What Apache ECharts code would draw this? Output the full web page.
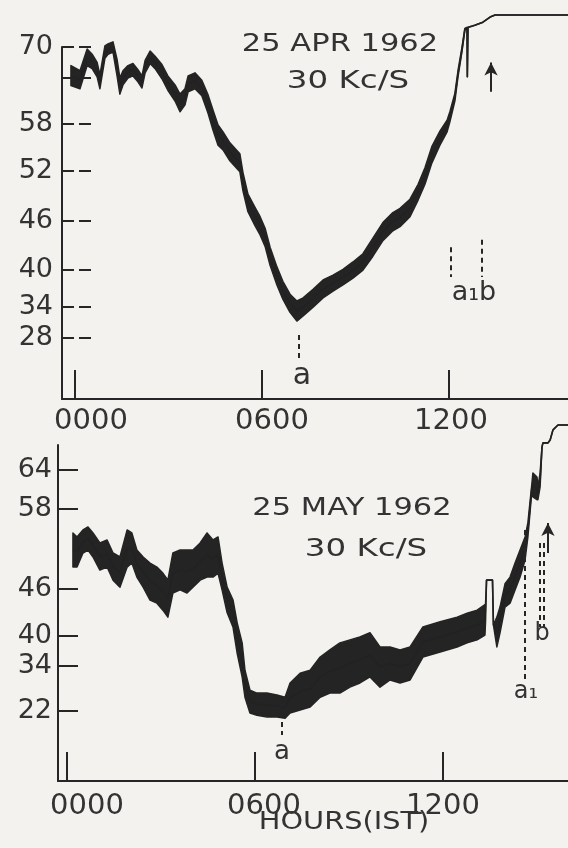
<!DOCTYPE html>
<html><head><meta charset="utf-8">
<script src="https://cdn.jsdelivr.net/npm/echarts@6/dist/echarts.min.js"></script>
<style>html,body{margin:0;padding:0;background:#f3f2ee}#c{width:568px;height:848px}</style>
</head><body><div id="c"></div>
<script>
// ---- time axis (hours IST) ----
const hourTicks = [0, 6, 12];
const hourLabels = ['0000', '0600', '1200'];

// ---- 25 APR 1962 : recorder level scale (non-linear) ----
const aprTickLevels = [28, 34, 40, 46, 52, 58, 64, 70];
const aprTickPos    = [17.3, 26.1, 36.6, 50.6, 64.8, 78.1, 91.2, 100];   // % of chart height
const aprLabelLevels = [28, 34, 40, 46, 52, 58, 70];
const aprHours = [-0.13,0.16,0.39,0.55,0.71,0.80,0.96,1.06,1.22,1.35,1.44,1.54,1.70,1.86,2.02,2.15,2.25,2.41,2.57,2.79,2.98,3.21,3.37,3.53,3.63,3.85,4.07,4.27,4.43,4.59,4.75,4.97,5.13,5.29,5.39,5.55,5.78,5.94,6.10,6.26,6.48,6.67,6.90,7.12,7.32,7.64,7.96,8.28,8.60,8.92,9.24,9.56,9.88,10.20,10.43,10.75,11.01,11.23,11.45,11.71,11.94,12.03,12.19,12.29,12.42,12.51,12.58,12.59,12.61,12.83,13.09,13.32,13.48,15.82];
const aprHigh  = [66.4,65.4,69.6,68.6,67.0,64.6,70.2,70.6,71.0,67.6,64.0,65.4,66.4,66.8,65.6,64.4,67.4,69.2,68.2,66.6,64.4,63.1,61.9,62.6,64.4,65.0,63.7,61.8,59.8,57.9,57.0,55.6,54.9,54.2,51.8,49.2,47.6,46.5,45.1,42.8,40.4,38.2,36.1,35.0,35.5,36.9,38.4,39.2,40.1,41.0,42.0,43.9,45.8,47.0,47.5,48.6,50.4,52.4,55.1,57.1,58.5,59.6,62.0,65.4,70.0,73.6,73.8,64.2,73.8,74.2,74.8,75.8,76.2,76.2];
const aprLow   = [63.0,62.6,66.4,65.8,64.2,62.6,67.8,68.6,69.0,64.4,61.9,63.1,64.0,64.4,63.5,62.7,65.0,66.8,65.8,63.9,62.4,61.0,59.6,60.5,62.2,62.6,61.7,59.4,57.2,55.3,54.7,53.3,52.6,51.9,49.6,47.1,45.4,44.3,42.9,40.6,37.6,35.3,33.0,31.3,32.3,34.0,35.5,36.6,37.6,38.7,40.0,41.7,43.6,44.8,45.3,46.5,48.5,50.4,53.0,55.3,57.0,58.3,61.0,64.2,69.2,73.2,73.8,64.2,73.8,74.2,74.8,75.8,76.2,76.2];
// annotations [hour, fromLevel, toLevel]
const aprDashMarks = [[7.19, 28.6, 23.4], [12.06, 42.8, 38.9], [13.06, 43.7, 38.9]];
const aprPenMarks  = [[13.32, 75.8, 72.2], [14.60, 76.2, 72.6]];
const aprArrow     = [13.35, 62.2, 67.0];

// ---- 25 MAY 1962 ----
const mayTickLevels = [22, 34, 40, 46, 58, 64];
const mayTickPos    = [20.8, 34.2, 43.2, 57.1, 81.0, 92.6];
const mayHours = [0.19,0.32,0.51,0.67,0.83,1.05,1.28,1.47,1.69,1.92,2.07,2.23,2.43,2.65,2.87,3.06,3.22,3.38,3.61,3.83,4.02,4.25,4.47,4.66,4.82,4.95,5.11,5.30,5.43,5.59,5.68,5.84,6.06,6.38,6.70,6.96,7.12,7.44,7.76,8.08,8.39,8.71,9.03,9.35,9.67,9.99,10.31,10.63,10.95,11.36,11.91,12.45,12.77,13.09,13.34,13.36,13.39,13.58,13.61,13.72,13.82,13.98,14.14,14.30,14.46,14.62,14.71,14.84,14.87,15.00,15.03,15.10,15.16,15.19,15.35,15.42,15.51,15.67,15.99];
const mayHigh  = [54.4,53.8,54.85,55.3,54.4,52.9,53.35,51.4,50.8,54.85,54.4,51.85,50.8,49.9,49.3,48.4,47.35,51.4,51.85,51.85,51.85,52.9,54.4,53.35,53.8,49.9,46.3,44.6,41.7,38.6,32.9,27.6,26.8,26.8,26.3,25.7,29.5,32.1,32.9,35.8,37.2,38.6,39.2,39.8,40.4,37.8,37.8,37.2,37.8,41.15,41.8,42.4,42.9,43.3,44.0,42.0,47.35,47.35,41.4,42.4,43.7,46.8,47.8,49.9,51.85,53.8,55.9,62.0,63.5,62.9,61.4,63.5,67.5,68.15,68.15,68.6,70.15,70.9,70.9];
const mayLow   = [49.3,49.3,51.4,51.85,50.8,48.85,49.3,47.35,46.3,49.3,49.9,47.8,46.3,44.6,44.2,43.3,42.4,45.5,45.9,45.5,46.3,47.35,47.8,47.8,48.4,45.9,43.0,41.1,36.6,31.1,25.7,21.5,20.9,20.4,20.4,20.1,21.5,22.3,23.1,25.7,26.8,26.8,28.4,29.5,31.1,28.4,30.3,29.5,30.3,35.8,36.8,37.8,38.6,39.2,40.1,42.0,47.35,47.35,41.4,37.8,40.4,43.7,44.2,45.9,47.8,50.35,53.8,60.9,59.85,59.4,59.4,61.4,67.5,68.15,68.15,68.6,70.15,70.9,70.9];
const mayDashMarks = [[6.86, 19.1, 15.6], [14.62, 54.85, 30.3], [15.10, 52.9, 41.15], [15.22, 52.9, 41.15]];
const mayArrow     = [15.35, 51.4, 55.9];

// ---- helpers ----
function makeCal(levels, pos) {
  const n = levels.length;
  return function (v) {
    let i;
    if (v <= levels[0]) i = 0;
    else if (v >= levels[n - 1]) i = n - 2;
    else { i = 0; while (i < n - 2 && v > levels[i + 1]) i++; }
    return pos[i] + (v - levels[i]) * (pos[i + 1] - pos[i]) / (levels[i + 1] - levels[i]);
  };
}
const aprCal = makeCal(aprTickLevels, aprTickPos);
const mayCal = makeCal(mayTickLevels, mayTickPos);
const INK = '#262626';
const FONT = '"DejaVu Sans", "Liberation Sans", sans-serif';

function levelFormatter(levels, cal, only) {
  return function (v) {
    let best = null, bd = 1e9;
    levels.forEach(l => { const d = Math.abs(cal(l) - v); if (d < bd) { bd = d; best = l; } });
    return (only.indexOf(best) >= 0) ? String(best) : '';
  };
}

function bandSeries(idx, hours, lo, hi, cal) {
  return {
    type: 'custom', xAxisIndex: idx, yAxisIndex: idx, silent: true, clip: false, z: 2,
    data: [[hours[0], cal(lo[0])]],
    renderItem: function (params, api) {
      const pts = [];
      for (let i = 0; i < hours.length; i++) pts.push(api.coord([hours[i], cal(hi[i])]));
      for (let i = hours.length - 1; i >= 0; i--) pts.push(api.coord([hours[i], cal(lo[i])]));
      return { type: 'polygon', shape: { points: pts },
        style: { fill: '#242424', stroke: '#242424', lineWidth: 1.5, lineJoin: 'round' } };
    }
  };
}

function markData(cal, dash, pen, arrow) {
  const out = [];
  dash.forEach(m => out.push([
    { coord: [m[0], cal(m[1])], symbol: 'none', lineStyle: { type: [5, 4], width: 2, color: INK } },
    { coord: [m[0], cal(m[2])], symbol: 'none' }]));
  pen.forEach(m => out.push([
    { coord: [m[0], cal(m[1])], symbol: 'none', lineStyle: { type: 'solid', width: 1.8, color: INK } },
    { coord: [m[0], cal(m[2])], symbol: 'none' }]));
  if (arrow) out.push([
    { coord: [arrow[0], cal(arrow[1])], symbol: 'none', lineStyle: { type: 'solid', width: 2, color: INK } },
    { coord: [arrow[0], cal(arrow[2])], symbol: 'arrow', symbolSize: [10, 13] }]);
  return out;
}

function centerSeries(idx, hours, lo, hi, cal, marks) {
  return {
    type: 'line', xAxisIndex: idx, yAxisIndex: idx, silent: true, clip: false, z: 3,
    showSymbol: false, symbol: 'none', animation: false,
    lineStyle: { color: '#222', width: 1.6 },
    data: hours.map((h, i) => [h, (cal(lo[i]) + cal(hi[i])) / 2]),
    markLine: { silent: true, animation: false, label: { show: false }, symbol: ['none', 'none'],
      emphasis: { disabled: true }, data: marks }
  };
}

function hourAxis(idx, min, max, pads, margin) {
  const rich = {};
  pads.forEach((p, i) => { rich['h' + i] = { padding: [0, 0, 0, p], fontSize: 29, fontFamily: FONT, color: '#333' }; });
  return {
    gridIndex: idx, type: 'value', min: min, max: max,
    axisLine: { show: true, onZero: false, lineStyle: { color: INK, width: 2 } },
    axisTick: { show: true, inside: true, length: 29, customValues: hourTicks, lineStyle: { color: INK, width: 2 } },
    axisLabel: { show: true, customValues: hourTicks, margin: margin, fontSize: 29, fontFamily: FONT, color: '#333',
      formatter: v => { const i = hourTicks.indexOf(Math.round(v)); return '{h' + i + '|' + hourLabels[i] + '}'; },
      rich: rich },
    splitLine: { show: false }
  };
}

function levelAxis(idx, levels, pos, labelLevels, cal, tickLen, tickType, margin) {
  return {
    gridIndex: idx, type: 'value', min: 0, max: 100,
    axisLine: { show: true, onZero: false, lineStyle: { color: INK, width: 2 } },
    axisTick: { show: true, inside: true, length: tickLen, customValues: pos,
      lineStyle: { color: INK, width: 2, type: tickType } },
    axisLabel: { show: true, customValues: labelLevels.map(cal), margin: margin, fontSize: 27,
      fontFamily: FONT, color: '#333', formatter: levelFormatter(levels, cal, labelLevels) },
    splitLine: { show: false }
  };
}

function txt(x, y, s, size, sx) {
  return { type: 'text', x: x, y: y, scaleX: sx || 1, silent: true,
    style: { text: s, font: size + 'px ' + FONT, fill: '#333', align: 'center', verticalAlign: 'middle' } };
}

const chart = echarts.init(document.getElementById('c'), null, { renderer: 'canvas' });
chart.setOption({
  backgroundColor: '#f3f2ee',
  animation: false,
  grid: [
    { left: 62, right: 0, top: 47, height: 352, containLabel: false },
    { left: 58, right: 0, top: 445, height: 336, containLabel: false }
  ],
  xAxis: [
    hourAxis(0, -0.417, 15.82, [32, 20, 4], 8),
    hourAxis(1, -0.287, 15.99, [40, 18, 0], 11)
  ],
  yAxis: [
    levelAxis(0, aprTickLevels, aprTickPos, aprLabelLevels, aprCal, 30, [12, 5], 9),
    levelAxis(1, mayTickLevels, mayTickPos, mayTickLevels, mayCal, 20, 'solid', 6)
  ],
  series: [
    bandSeries(0, aprHours, aprLow, aprHigh, aprCal),
    centerSeries(0, aprHours, aprLow, aprHigh, aprCal, markData(aprCal, aprDashMarks, aprPenMarks, aprArrow)),
    bandSeries(1, mayHours, mayLow, mayHigh, mayCal),
    centerSeries(1, mayHours, mayLow, mayHigh, mayCal, markData(mayCal, mayDashMarks, [], mayArrow))
  ],
  graphic: [
    txt(340, 44, '25 APR 1962', 25, 1.22),
    txt(348, 81, '30 Kc/S', 25, 1.3),
    txt(302, 376, 'a', 30, 1),
    txt(474, 293, 'a\u2081b', 27, 1),
    txt(352, 508, '25 MAY 1962', 25, 1.22),
    txt(366, 549, '30 Kc/S', 25, 1.3),
    txt(282, 752, 'a', 26, 1),
    txt(526, 692, 'a\u2081', 24, 1),
    txt(542, 634, 'b', 24, 1),
    txt(344, 823, 'HOURS(IST)', 24, 1.2)
  ]
});
</script></body></html>
